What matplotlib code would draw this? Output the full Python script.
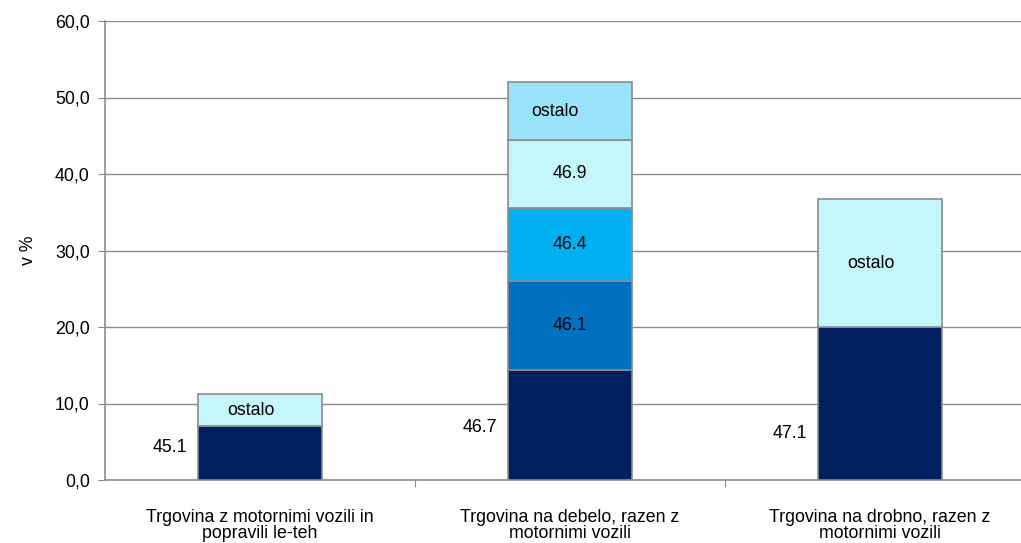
import matplotlib.pyplot as plt
import numpy as np

plt.rcParams['font.family'] = ['Liberation Sans', 'DejaVu Sans']

categories = ["Trgovina z motornimi vozili in\npopravili le-teh",
              "Trgovina na debelo, razen z\nmotornimi vozili",
              "Trgovina na drobno, razen z\nmotornimi vozili"]

# stacked segments per bar (bottom to top), in %
segments = [
    [7.0, 4.2],
    [14.4, 11.6, 9.6, 8.8, 7.6],
    [20.0, 16.7],
]
segment_colors = [
    ["#002060", "#C5F6FC"],
    ["#002060", "#0070C0", "#00B0F0", "#C5F6FC", "#99E3FA"],
    ["#002060", "#C5F6FC"],
]
segment_labels = [
    ["", "ostalo"],
    ["", "46.1", "46.4", "46.9", "ostalo"],
    ["", "ostalo"],
]
# labels written left of the bottom segment
side_labels = ["45.1", "46.7", "47.1"]
side_label_y = [4.3, 6.8, 6.1]

FS = 12.8

fig = plt.figure(figsize=(10.21, 5.43), dpi=100)
ax = fig.add_axes([105 / 1021, 63 / 543, 930 / 1021, 459 / 543])

x = np.arange(len(categories))
width = 0.4
for i in range(len(categories)):
    bottom = 0
    for val, col, lab in zip(segments[i], segment_colors[i], segment_labels[i]):
        ax.bar(x[i], val, width, bottom=bottom, color=col, edgecolor="#8c8c8c",
               linewidth=1.2, zorder=3)
        if lab:
            dx = -0.05 if lab == "ostalo" and i == 1 else (-0.03 if lab == "ostalo" else 0)
            ax.text(x[i] + dx, bottom + val / 2, lab, ha="center", va="center",
                    fontsize=FS, color="black", zorder=4)
        bottom += val
    ax.text(x[i] - width / 2 - 0.035, side_label_y[i], side_labels[i], ha="right",
            va="center", fontsize=FS, color="black")

ax.set_xlim(-0.5, 2.5)
ax.set_ylim(0, 60)
ax.set_yticks(np.arange(0, 61, 10))
ax.set_yticklabels([f"{v:.1f}".replace(".", ",") for v in np.arange(0, 61, 10)],
                   fontsize=FS)
ax.yaxis.grid(True, color="#8c8c8c", linewidth=1.0, zorder=0)
ax.set_axisbelow(True)

ax.set_xticks([0.5, 1.5])
ax.set_xticklabels([])
ax.set_xticks(x, minor=True)
ax.set_xticklabels(categories, minor=True, fontsize=FS, linespacing=0.9)
ax.tick_params(axis="x", which="minor", length=0, pad=21)
ax.tick_params(axis="x", which="major", length=5, color="#8c8c8c")
ax.tick_params(axis="y", length=5, color="#8c8c8c", pad=6)

for s in ["top", "right"]:
    ax.spines[s].set_visible(False)
for s in ["left", "bottom"]:
    ax.spines[s].set_color("#8c8c8c")
    ax.spines[s].set_linewidth(1.2)

ax.set_ylabel("v %", fontsize=FS, labelpad=13)

fig.savefig("out.png", dpi=100)
